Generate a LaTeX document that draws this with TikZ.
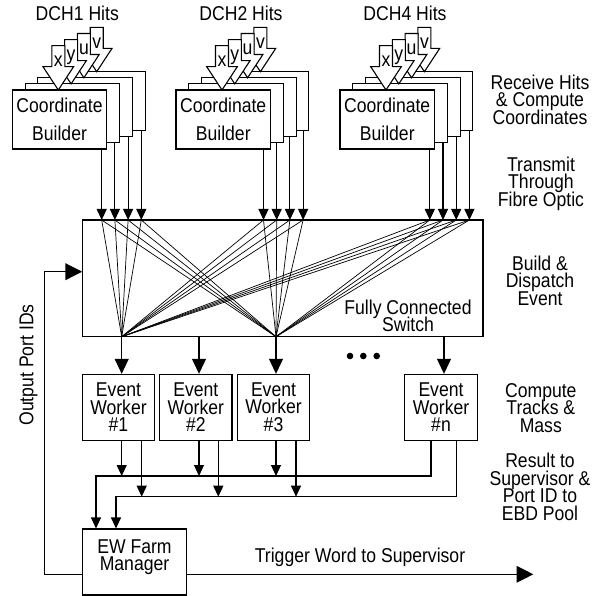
\documentclass[tikz,border=0pt]{standalone}
\usepackage{fontspec}
\setmainfont{Liberation Sans}[FakeStretch=0.88]
\usetikzlibrary{arrows.meta,calc}
\newcommand\dfont{\fontsize{20}{17.5}\selectfont\lineskiplimit=-30pt\relax}
\newcommand\cbfont{\fontsize{20}{27.4}\selectfont\lineskiplimit=-30pt\relax}
\tikzset{
  ln/.style={line width=1.1pt},
  bigarr/.style={ln,-{Triangle[length=15pt,width=14pt]}},
  hugearr/.style={ln,-{Triangle[length=16.7pt,width=16.7pt]}},
  smallarr/.style={ln,-{Triangle[length=11pt,width=10pt]}},
  box/.style={draw,ln,fill=white,inner sep=0pt,align=center,font=\dfont},
  lab/.style={align=center,font=\dfont,inner sep=0pt},
  wire/.style={line width=0.7pt},
  blk/.style={draw,ln,fill=white,line join=miter},
}
\begin{document}
\begin{tikzpicture}[x=1pt,y=-1pt]
\useasboundingbox (0,0) rectangle (605,596);

% ---------- Coordinate builders ----------
\foreach \lx/\bx/\gi/\dch in {12.3/101.7/1/DCH1, 176/263.5/2/DCH2, 340/429.8/3/DCH4} {
  \node[lab,anchor=base] (hits\gi) at (\lx+65,20.5) {\dch\ Hits};
  \foreach \kk in {3,2,1} {
    \draw[ln,fill=white] (\lx+12.8*\kk,90-6.1*\kk) rectangle ++(94.5,59);
  }
  \node[box,minimum width=94.5pt,minimum height=59pt,font=\cbfont] (cb\gi) at (\lx+47.25,119.5) {Coordinate\\Builder};
  \foreach \kk/\lt in {3/v,2/u,1/y,0/x} {
    \pgfmathsetmacro\tx{\lx+46+12.8*\kk}
    \pgfmathsetmacro\ty{90-6.1*\kk}
    \draw[blk] (\tx-6.5,\ty-44.3) -- (\tx+6.5,\ty-44.3) -- (\tx+6.5,\ty-23.3)
      -- (\tx+15.3,\ty-23.3) -- (\tx,\ty) -- (\tx-15.3,\ty-23.3) -- (\tx-6.5,\ty-23.3) -- cycle;
    \node[lab,anchor=base] (hit\gi\lt) at (\tx,\ty-23.5) {\lt};
  }
  \foreach \kk in {0,...,3} {
    \coordinate (src\gi\kk) at (\bx+13.2*\kk,149-6.1*\kk);
    \coordinate (in\gi\kk) at (\bx+13.2*\kk,220);
    \draw[smallarr] (src\gi\kk) -- (in\gi\kk);
  }
}

% ---------- Switch ----------
\node[draw,ln,minimum width=400.3pt,minimum height=116.7pt,inner sep=0pt] (sw) at (282.85,278.35) {};
\coordinate (sw1) at (121.7,336.7);
\coordinate (sw2) at (199,336.7);
\coordinate (sw3) at (276,336.7);
\coordinate (swn) at (444,336.7);
\foreach \gi in {1,2,3} {
  \foreach \kk in {0,...,3} {
    \draw[wire] (in\gi\kk) -- (sw1);
    \draw[wire] (in\gi\kk) -- (sw3);
  }
}
\node[lab] (swlab) at (408,316) {Fully Connected\\Switch};

% ---------- Event workers ----------
\foreach \i/\cx in {1/118.5, 2/195.8, 3/273.5, n/441} {
  \node[box,minimum width=72.4pt,minimum height=65.7pt] (ew\i) at (\cx,407.2) {Event\\Worker\\\#\i};
  \draw[bigarr] (sw\i) -- (sw\i |- ew\i.north);
}
\fill (350,356) circle (3.3pt);
\fill (363.3,356) circle (3.3pt);
\fill (376.7,356) circle (3.3pt);

% ---------- Manager ----------
\node[draw,ln,minimum width=104.4pt,minimum height=66pt,inner sep=0pt] (mgr) at (134.5,562) {};
\node[lab] (mgrlab) at (134.5,557.3) {EW Farm\\Manager};

% ---------- Result buses ----------
\coordinate (busA) at (96,476);
\coordinate (busB) at (116,496.7);
\foreach \i/\xa/\xb in {1/121.7/141.7, 2/199/218.3, 3/276/296} {
  \coordinate (ea\i) at (\xa,440);
  \coordinate (eb\i) at (\xb,440);
  \draw[smallarr] (ea\i) -- (ea\i |- busA);
  \draw[smallarr] (eb\i) -- (eb\i |- busB);
}
\coordinate (ean) at (431,440);
\coordinate (ebn) at (456.7,440);
\draw[smallarr] (ean) |- (busA) -- (busA |- mgr.north);
\draw[smallarr] (ebn) |- (busB) -- (busB |- mgr.north);

% ---------- Feedback loop and trigger ----------
\coordinate (loopB) at (44.3,574.3);
\coordinate (loopT) at (44.3,271.7);
\draw[hugearr] (mgr.west |- loopB) -- (loopB) -- (loopT) -- (loopT -| sw.west);
\coordinate (trigEnd) at (533.3,574.3);
\draw[hugearr] (mgr.east |- trigEnd) -- (trigEnd);
\node[lab,anchor=base] (trig) at (360,562.7) {Trigger Word to Supervisor};
\node[lab,anchor=base,rotate=90] (opid) at (33.3,365) {Output Port IDs};

% ---------- Right column ----------
\node[lab] (recv) at (540,99.75) {Receive Hits\\\& Compute\\Coordinates};
\node[lab] (trans) at (541,183.6) {Transmit\\Through\\Fibre Optic};
\node[lab] (build) at (540,280.75) {Build \&\\Dispatch\\Event};
\node[lab] (comp) at (540.8,408) {Compute\\Tracks \&\\Mass};
\node[lab] (res) at (540,486.8) {Result to\\Supervisor \&\\Port ID to\\EBD Pool};
\end{tikzpicture}
\end{document}
